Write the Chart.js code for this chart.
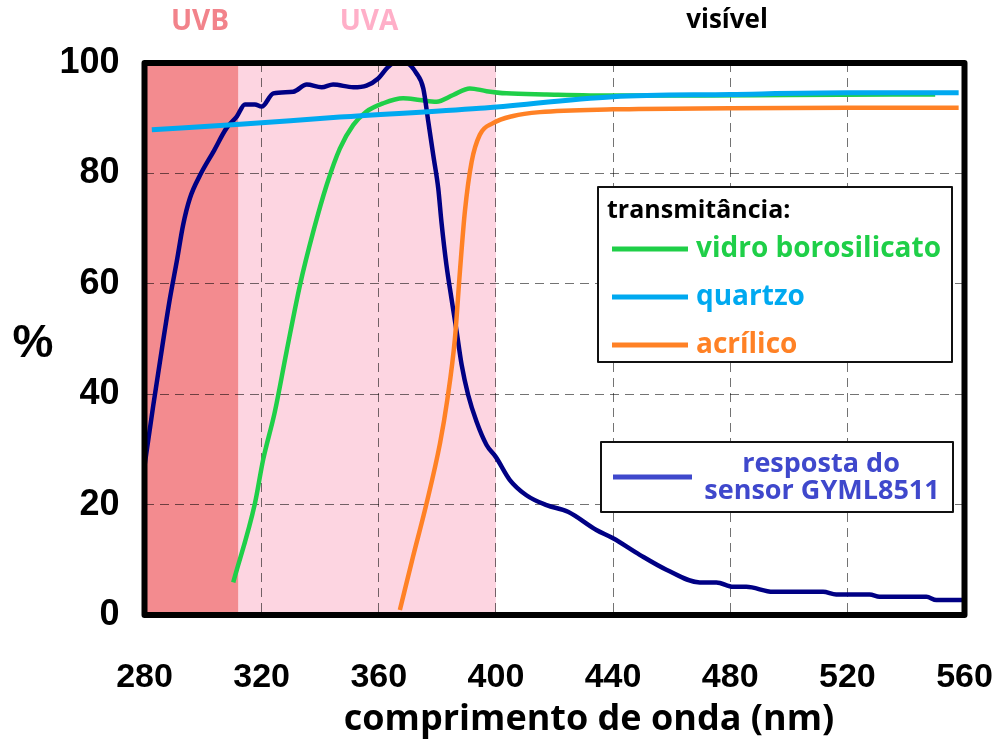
<!DOCTYPE html>
<html>
<head>
<meta charset="utf-8">
<script src="https://cdn.jsdelivr.net/npm/chart.js@4.4.1/dist/chart.umd.min.js"></script>
<style>
  html, body { margin: 0; padding: 0; background: #fff; }
  #wrap { width: 999px; height: 749px; }
</style>
</head>
<body>
<div id="wrap"><canvas id="chart" width="999" height="749"></canvas></div>
<script>
// wavelength ticks / value ticks
const xTicks = [280, 320, 360, 400, 440, 480, 520, 560]
const yTicks = [0, 20, 40, 60, 80, 100]

// spectral bands (nm)
const uvbBand = [280, 312]
const uvaBand = [312, 400]

// sensor response GYML8511
const sensorNm = [280, 283, 286, 288.7, 291, 293.2, 295.5, 299, 303.5, 308, 311.5, 314.3, 317.7, 320, 324, 330.8, 335.4, 340.5, 344.4, 351.3, 355.8, 359.8, 363.2, 365, 369.5, 372.9, 375.2, 376.9, 378.6, 380.3, 381.4, 383.1, 384.8, 386.6, 388.3, 390.5, 393.4, 396.8, 400, 404.7, 410.4, 417.3, 424.6, 434.3, 440, 449.1, 458.2, 469.6, 475.3, 481, 485.5, 494.6, 511.7, 516.2, 527.6, 531, 547, 550.4, 560]
const sensorPct = [27, 38, 48.4, 57.4, 64, 70.7, 75.5, 79.7, 83.9, 88.2, 90.3, 92.5, 92.5, 92.1, 94.5, 94.8, 96.1, 95.6, 96.1, 95.6, 95.9, 97.2, 99.3, 99.9, 99.9, 98.1, 95.4, 89.4, 83.3, 77.3, 71.2, 63.4, 57.4, 51.3, 45.3, 39.9, 35, 30.8, 28.6, 24.5, 21.7, 19.9, 18.7, 15.4, 13.9, 10.9, 8.2, 5.9, 5.9, 5.1, 5.1, 4.2, 4.2, 3.7, 3.7, 3.3, 3.3, 2.7, 2.7]

// transmittance: borosilicate glass
const glassNm = [310.3, 317.7, 320.5, 324.5, 328.5, 333.1, 337.6, 342.2, 346.7, 351.3, 355.8, 361.5, 368.3, 374, 379.7, 385.4, 391.1, 396.8, 403.6, 417.3, 440, 470, 500, 550]
const glassPct = [5.9, 20.2, 28.1, 36.8, 47.7, 59.8, 69.4, 77.9, 84.5, 88.8, 91.2, 92.7, 93.6, 93.3, 93, 94.2, 95.4, 94.9, 94.5, 94.3, 94.1, 94.1, 94.2, 94.3]

// transmittance: quartz
const quartzNm = [282.5, 312.6, 346.7, 394.5, 440, 480, 520, 558]
const quartzPct = [87.9, 88.9, 90.2, 91.8, 93.9, 94.3, 94.6, 94.6]

// transmittance: acrylic
const acrylicNm = [367.2, 371.7, 376.3, 380.9, 383.4, 386, 387.7, 389.4, 391.7, 394.5, 399, 405.9, 415, 440, 480, 520, 558]
const acrylicPct = [0.9, 10.6, 20.2, 31.1, 39, 50.1, 62.2, 73.1, 82.1, 87, 89.1, 90.4, 91.1, 91.6, 91.8, 91.9, 91.9]

const GREEN = "#1fcf48"
const BLUE = "#00a9f0"
const ORANGE = "#ff8125"
const NAVY = "#000084"
const SENSOR_TXT = "#3f48cc"

const toPts = (xs, ys) => xs.map((x, i) => ({ x: x, y: ys[i] }))

// plot area position in the page
const AREA = { left: 144.5, top: 63, right: 964.5, bottom: 615 }

const bandsPlugin = {
  id: "bands",
  beforeDraw(chart) {
    const { ctx, chartArea, scales } = chart
    const x = scales.x
    ctx.save()
    ctx.fillStyle = "#fdd5e1"
    ctx.fillRect(x.getPixelForValue(uvaBand[0]), chartArea.top, x.getPixelForValue(uvaBand[1]) - x.getPixelForValue(uvaBand[0]), chartArea.bottom - chartArea.top)
    ctx.fillStyle = "#f38b8f"
    ctx.fillRect(x.getPixelForValue(uvbBand[0]), chartArea.top, x.getPixelForValue(uvbBand[1]) - x.getPixelForValue(uvbBand[0]), chartArea.bottom - chartArea.top)
    ctx.restore()
  },
}

const decoPlugin = {
  id: "deco",
  afterDraw(chart) {
    const { ctx, chartArea } = chart
    ctx.save()
    // frame
    ctx.strokeStyle = "#000"
    ctx.lineWidth = 6
    ctx.lineJoin = "round"
    ctx.strokeRect(chartArea.left, chartArea.top, chartArea.right - chartArea.left, chartArea.bottom - chartArea.top)

    ctx.textBaseline = "middle"
    ctx.textAlign = "center"
    // band labels
    ctx.font = "bold 28px 'Open Sans'"
    ctx.fillStyle = "#f2838b"
    ctx.fillText("UVB", 200, 22)
    ctx.fillStyle = "#ffafc8"
    ctx.fillText("UVA", 369, 22)
    ctx.font = "bold 26px 'Open Sans'"
    ctx.fillStyle = "#000"
    ctx.fillText("visível", 727, 21)

    // axis titles
    ctx.font = "bold 46px 'Liberation Sans'"
    ctx.fillText("%", 33, 344)
    ctx.font = "bold 36px 'Open Sans'"
    ctx.fillText("comprimento de onda (nm)", 589, 720)

    // legend: transmittance
    ctx.fillStyle = "#fff"
    ctx.fillRect(598, 187, 354, 175)
    ctx.lineWidth = 2
    ctx.strokeStyle = "#111"
    ctx.strokeRect(598, 187, 354, 175)
    ctx.textAlign = "left"
    ctx.font = "bold 25px 'Open Sans'"
    ctx.fillStyle = "#000"
    ctx.fillText("transmitância:", 607, 211)
    const entries = [
      ["vidro borosilicato", GREEN, 249],
      ["quartzo", BLUE, 297],
      ["acrílico", ORANGE, 345],
    ]
    ctx.lineWidth = 5
    entries.forEach(([label, color, y]) => {
      ctx.strokeStyle = color
      ctx.beginPath()
      ctx.moveTo(612, y)
      ctx.lineTo(688, y)
      ctx.stroke()
      ctx.fillStyle = color
      ctx.font = "bold 28px 'Open Sans'"
      ctx.fillText(label, 696, y)
    })

    // legend: sensor
    ctx.fillStyle = "#fff"
    ctx.fillRect(601, 442, 352, 70)
    ctx.lineWidth = 2
    ctx.strokeStyle = "#111"
    ctx.strokeRect(601, 442, 352, 70)
    ctx.lineWidth = 5
    ctx.strokeStyle = SENSOR_TXT
    ctx.beginPath()
    ctx.moveTo(613, 477)
    ctx.lineTo(692, 477)
    ctx.stroke()
    ctx.fillStyle = SENSOR_TXT
    ctx.textAlign = "center"
    ctx.font = "bold 27px 'Open Sans'"
    ctx.fillText("resposta do", 821, 464)
    ctx.fillText("sensor GYML8511", 822, 491)
    ctx.restore()
  },
}

const lineDs = (label, pts, color, width) => ({
  label: label,
  data: pts,
  borderColor: color,
  backgroundColor: color,
  borderWidth: width,
  pointRadius: 0,
  fill: false,
  cubicInterpolationMode: "monotone",
  clip: 4,
})

new Chart(document.getElementById("chart"), {
  type: "line",
  data: {
    // dataset 0 is painted on top
    datasets: [
      lineDs("acrílico", toPts(acrylicNm, acrylicPct), ORANGE, 4.5),
      lineDs("quartzo", toPts(quartzNm, quartzPct), BLUE, 5),
      lineDs("resposta do sensor GYML8511", toPts(sensorNm, sensorPct), NAVY, 4.5),
      lineDs("vidro borosilicato", toPts(glassNm, glassPct), GREEN, 4.5),
    ],
  },
  options: {
    responsive: false,
    animation: false,
    events: [],
    layout: { padding: { top: AREA.top, right: 999 - AREA.right, left: 0, bottom: 0 } },
    plugins: { legend: { display: false }, tooltip: { enabled: false } },
    scales: {
      x: {
        type: "linear",
        min: xTicks[0],
        max: xTicks[xTicks.length - 1],
        afterBuildTicks: (s) => { s.ticks = xTicks.map((v) => ({ value: v })) },
        afterFit: (s) => {
          s.height = 749 - AREA.bottom
          s.paddingLeft = 0
          s.paddingRight = 0
        },
        grid: {
          color: (c) => (c.tick && (c.tick.value === 280 || c.tick.value === 560) ? "rgba(0,0,0,0)" : "rgba(0,0,0,0.55)"),
          lineWidth: 1,
          drawTicks: false,
        },
        border: { display: false, dash: [9, 6] },
        ticks: { color: "#000", font: { family: "'Liberation Sans'", weight: "bold", size: 34 }, padding: 42, maxRotation: 0 },
      },
      y: {
        min: 0,
        max: 100,
        afterBuildTicks: (s) => { s.ticks = yTicks.map((v) => ({ value: v })) },
        afterFit: (s) => {
          s.width = AREA.left
          s.paddingTop = 0
          s.paddingBottom = 0
        },
        grid: {
          color: (c) => (c.tick && (c.tick.value === 0 || c.tick.value === 100) ? "rgba(0,0,0,0)" : "rgba(0,0,0,0.55)"),
          lineWidth: 1,
          drawTicks: false,
        },
        border: { display: false, dash: [9, 6] },
        ticks: { color: "#000", font: { family: "'Liberation Sans'", weight: "bold", size: 36 }, padding: 25 },
      },
    },
  },
  plugins: [bandsPlugin, decoPlugin],
})
</script>
</body>
</html>
